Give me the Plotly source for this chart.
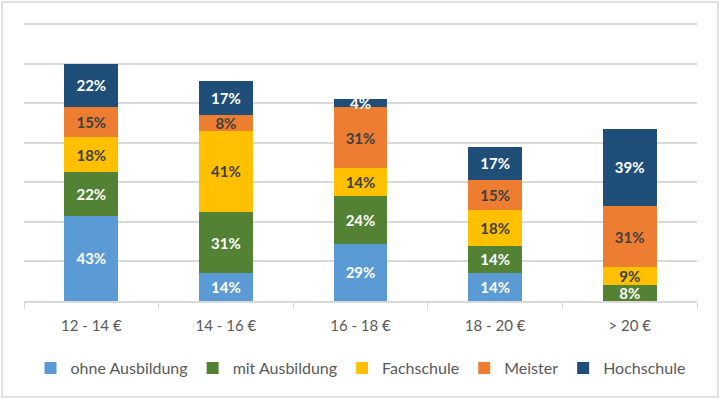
import plotly.graph_objects as go

categories = ["12 - 14 €", "14 - 16 €", "16 - 18 €", "18 - 20 €", "> 20 €"]
series_names = ["ohne Ausbildung", "mit Ausbildung", "Fachschule", "Meister", "Hochschule"]
ohne_ausbildung = [43, 14, 29, 14, 0]
mit_ausbildung = [22, 31, 24, 14, 8]
fachschule = [18, 41, 14, 18, 9]
meister = [15, 8, 31, 15, 31]
hochschule = [22, 17, 4, 17, 39]

series_values = [ohne_ausbildung, mit_ausbildung, fachschule, meister, hochschule]
colors = ["#5B9BD5", "#548235", "#FFC000", "#ED7D31", "#1F4E79"]
text_colors = ["#FFFFFF", "#FFFFFF", "#404040", "#404040", "#FFFFFF"]

fig = go.Figure()
for name, vals, col, tcol in zip(series_names, series_values, colors, text_colors):
    fig.add_trace(go.Bar(
        name=name, x=categories, y=vals,
        marker=dict(color=col, line=dict(width=0)),
        text=[f"{v}%" if v > 0 else "" for v in vals],
        textposition="inside", insidetextanchor="middle",
        insidetextfont=dict(color=tcol, size=15, family="Lato", weight="bold"),
        hoverinfo="skip",
    ))

fig.update_layout(
    barmode="stack", bargap=0.6,
    width=721, height=399,
    margin=dict(l=24, r=24, t=22, b=98),
    paper_bgcolor="white", plot_bgcolor="white",
    font=dict(family="Lato", color="#595959", size=15),
    uniformtext=dict(minsize=15, mode="show"),
    showlegend=True,
    legend=dict(orientation="h", x=0.5, xanchor="center", y=-0.18, yanchor="top",
                font=dict(size=16, color="#595959"), itemwidth=30, traceorder="normal"),
    xaxis=dict(showline=True, linecolor="#D9D9D9", linewidth=1.5, ticks="outside",
               tickson="boundaries", ticklen=6, tickcolor="#D9D9D9",
               ticklabelstandoff=10, automargin=False,
               tickfont=dict(size=15, color="#595959"), showgrid=False),
    yaxis=dict(range=[0, 141], dtick=20, showticklabels=False, showgrid=True,
               gridcolor="#D9D9D9", gridwidth=1.5, zeroline=False, fixedrange=True,
               automargin=False),
    shapes=[dict(type="rect", xref="paper", yref="paper",
                 x0=(2 - 24) / 673, x1=(718 - 24) / 673,
                 y0=(301 - 397) / 279, y1=(301 - 2) / 279,
                 line=dict(color="#D9D9D9", width=1.5), fillcolor="rgba(0,0,0,0)", layer="below")],
)

fig.write_html("out.html", config={"displayModeBar": False},
               post_script="document.body.style.margin='0';")
